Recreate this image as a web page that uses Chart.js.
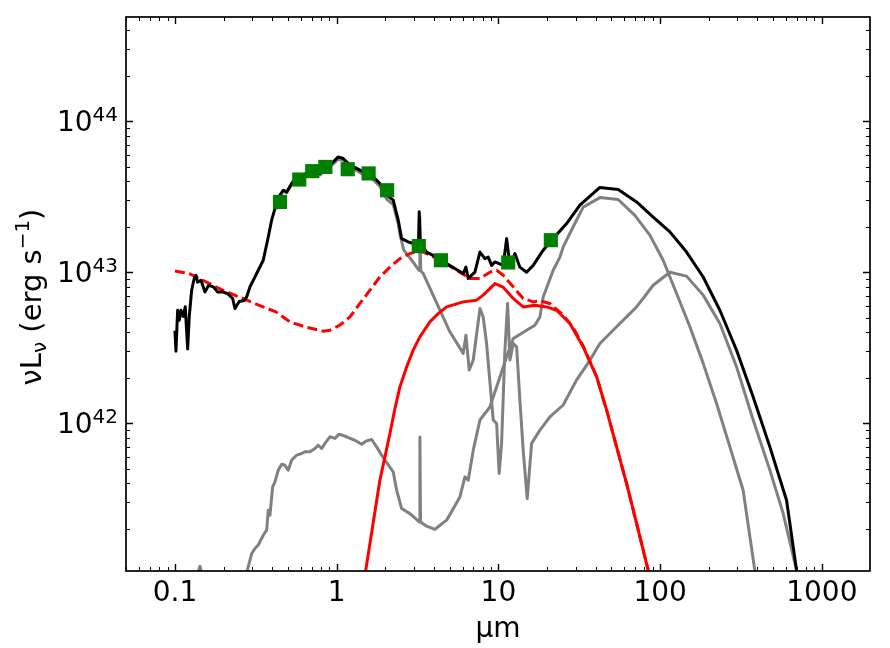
<!DOCTYPE html>
<html>
<head>
<meta charset="utf-8">
<script src="https://cdn.jsdelivr.net/npm/chart.js@4.4.0/dist/chart.umd.min.js"></script>
<style>
  html, body { margin: 0; padding: 0; background: #fff; }
  #wrap { width: 890px; height: 648px; }
</style>
</head>
<body>
<div id="wrap"><canvas id="sed" width="890" height="648"></canvas></div>
<script>
// ── SED data (wavelength in µm, νLν in erg/s) ─────────────────────────
const photWl = [0.446, 0.587, 0.706, 0.851, 1.17, 1.576, 2.05, 3.22, 4.41, 11.5, 21.1];
const photL  = [2.92e43, 4.11e43, 4.67e43, 4.98e43, 4.81e43, 4.51e43, 3.49e43, 1.49e43, 1.20e43, 1.16e43, 1.63e43];

// total model
const totWl = [0.100,0.1014,0.1039,0.1063,0.1089,0.1125,0.1158,0.1198,0.1226,0.1268,0.1316,0.1349,0.1381,0.1448,0.1533,0.1615,0.1725,0.1837,0.1972,0.2118,0.2274,0.2349,0.2497,0.2682,0.2775,0.2909,0.320,0.3514,0.3775,0.3961,0.4152,0.4458,0.4673,0.4903,0.5265,0.5654,0.652,0.7161,0.7879,0.8669,0.9307,1.022,1.098,1.208,1.328,1.459,1.683,1.851,2.036,2.237,2.402,2.521,2.769,2.973,3.121,3.20,3.239,3.28,3.351,3.598,4.149,4.349,4.784,6.058,6.296,6.506,7.155,7.685,8.252,8.649,9.078,9.515,10.71,11.24,11.78,12.65,13.58,14.94,16.41,18.92,21.82,26.41,31.9,42.42,55.03,71.53,90.58,114.9,145.7,184.6,234.1,297,376.2,477.1,605.1,697.7,760];
const totL  = [4.1e42,3.0e42,5.6e42,4.8e42,5.6e42,5.1e42,5.9e42,3.1e42,5.1e42,7.6e42,9.1e42,9.55e42,8.6e42,8.85e42,7.4e42,8.2e42,8.0e42,7.4e42,7.4e42,7.2e42,6.7e42,5.75e42,6.4e42,6.5e42,6.86e42,8.0e42,9.8e42,1.2e43,1.71e43,2.21e43,2.64e43,3.24e43,3.49e43,3.40e43,3.87e43,4.28e43,4.51e43,4.62e43,4.51e43,4.98e43,5.25e43,5.8e43,5.66e43,5.12e43,4.87e43,4.62e43,4.28e43,3.87e43,3.24e43,3.0e43,2.21e43,1.67e43,1.59e43,1.55e43,1.47e43,1.48e43,2.51e43,1.6e43,1.51e43,1.36e43,1.26e43,1.23e43,1.14e43,9.8e42,1.08e43,9.1e42,1.0e43,1.36e43,1.23e43,1.26e43,1.11e43,1.17e43,1.11e43,1.67e43,1.11e43,1.33e43,1.08e43,1.0e43,1.11e43,1.40e43,1.67e43,2.10e43,2.78e43,3.64e43,3.53e43,2.92e43,2.32e43,1.85e43,1.36e43,9.3e42,5.6e42,3.04e42,1.49e42,6.97e41,3.09e41,1.06e41,5e40];

// AGN total (dashed) and torus (solid red)
const agnWl = [0.1,0.1226,0.1555,0.1972,0.2497,0.332,0.421,0.514,0.652,0.826,0.908,1.047,1.208,1.392,1.606,1.851,2.134,2.46,2.84,3.27,4.35,5.51,6.67,7.69,8.86,9.75,10.71,12.35,14.23,16.41,18.06,20.82,25.16,29.0,33.44,40.5,46.7,53.8,62.0,71.53,84.4,95];
const agnL  = [1.02e43,9.8e42,8.63e42,7.6e42,6.86e42,6.04e42,5.46e42,4.69e42,4.31e42,4.07e42,4.13e42,4.46e42,5.06e42,6.21e42,7.6e42,9.31e42,1.08e43,1.23e43,1.33e43,1.39e43,1.21e43,1.03e43,9.08e42,9.08e42,1.0e43,1.03e43,9.55e42,8.0e42,6.7e42,6.36e42,6.46e42,6.21e42,5.19e42,4.3e42,3.25e42,2.03e42,1.22e42,6.97e41,3.99e41,2.17e41,1.06e41,6.5e40];
const torWl = [1.45,1.51,1.851,1.988,2.134,2.292,2.46,2.707,2.97,3.27,3.77,4.245,4.78,6.06,7.33,8.05,9.52,10.71,12.35,14.23,16.81,19.86,22.9,27.67,33.44,40.5,46.7,53.8,62.0,71.53,84.4,95];
const torL  = [8e40,1.05e41,4.2e41,5.98e41,8.54e41,1.25e42,1.74e42,2.36e42,3.04e42,3.73e42,4.69e42,5.32e42,5.89e42,6.36e42,6.53e42,7.05e42,8.41e42,7.96e42,6.7e42,5.89e42,6.04e42,5.89e42,5.6e42,4.57e42,3.2e42,2.03e42,1.22e42,6.97e41,3.99e41,2.17e41,1.06e41,6.5e40];

// grey components
const sbWl = [0.125,0.138,0.1427,0.147,0.16,0.22,0.262,0.280,0.298,0.3124,0.3273,0.3353,0.3514,0.3689,0.3775,0.3867,0.4018,0.4152,0.4351,0.4567,0.4786,0.5017,0.5265,0.5654,0.607,0.6364,0.6833,0.7336,0.7691,0.8072,0.8462,0.908,0.9754,1.037,1.152,1.297,1.427,1.532,1.645,1.766,1.896,2.237,2.348,2.521,2.838,3.24,3.27,3.30,3.598,4.05,4.35,4.784,5.78,6.21,6.51,6.99,7.69,8.86,11.24,12.35,14.94,16.81,18.06,18.92,21.82,24.0,25.16,29.0,33.44,42.42,55.03,69.8,86.4,104.4,126.4,152.8,184.6,223.4,270,326,385,410];
const sbL  = [7e40,1.0e41,1.13e41,1.0e41,7e40,5e40,8e40,1.06e41,1.37e41,1.48e41,1.56e41,1.64e41,1.81e41,1.96e41,2.65e41,2.46e41,3.79e41,4.09e41,4.88e41,5.35e41,5.27e41,4.88e41,5.69e41,6.14e41,6.30e41,6.46e41,6.46e41,6.80e41,7.15e41,6.80e41,7.35e41,8.13e41,7.93e41,8.46e41,8.13e41,7.71e41,7.26e41,7.64e41,7.80e41,6.97e41,6.14e41,4.75e41,3.60e41,2.72e41,2.52e41,2.22e41,8.11e41,2.22e41,2.08e41,1.98e41,2.11e41,2.28e41,3.25e41,4.41e41,4.20e41,6.63e41,1.05e42,1.28e42,2.75e42,3.64e42,4.13e42,4.46e42,5.06e42,6.86e42,1.03e43,1.26e43,1.47e43,2.0e43,2.70e43,3.12e43,3.03e43,2.38e43,1.76e43,1.20e43,7.23e42,4.35e42,2.49e42,1.35e42,6.97e41,3.60e41,1.06e41,6.5e40];
const hostWl = [0.4152,0.4458,0.4673,0.4903,0.5265,0.5654,0.652,0.7161,0.7879,0.8669,0.9307,1.022,1.098,1.208,1.328,1.459,1.683,1.851,2.036,2.237,2.402,2.47,2.6,3.0,3.23,3.27,3.31,3.43,4.35,5.01,6.06,6.30,6.60,6.99,7.69,8.05,8.45,9.29,9.75,10.11,10.46,10.97,11.40,11.78,12.35,12.96,13.58,14.23,15.07,16.04,18.06,20.82,25.16,30.4,36.8,42.42,53.8,71.53,90.58,114.9,145.7,184.6,234.1,297,376.2,477.1,576.4,697.7,740];
const hostL  = [2.6e43,3.2e43,3.45e43,3.35e43,3.8e43,4.2e43,4.4e43,4.5e43,4.4e43,4.85e43,5.1e43,5.6e43,5.5e43,4.95e43,4.7e43,4.45e43,4.1e43,3.7e43,3.05e43,2.8e43,2.1e43,1.75e43,1.4e43,1.15e43,1.03e43,2.3e43,1.02e43,9.8e42,5.6e42,4.03e42,2.9e42,3.83e42,2.25e42,2.62e42,5.75e42,5.06e42,3.37e42,1.05e42,9.95e41,4.65e41,7.35e41,3.04e42,6.21e42,2.62e42,3.37e42,3.2e42,1.42e42,6.63e41,3.17e41,7.35e41,9.0e41,1.10e42,1.32e42,1.93e42,2.61e42,3.37e42,4.35e42,5.89e42,8.2e42,1.0e43,9.42e42,7.05e42,4.57e42,2.36e42,1.05e42,4.89e41,2.53e41,1.06e41,7e40];

// axes
const xTickVals   = [0.1, 1, 10, 100, 1000];
const xTickLabels = ['0.1', '1', '10', '100', '1000'];
const yTickVals   = [1e42, 1e43, 1e44];
const yTickExps   = ['42', '43', '44'];

const FONT = '"DejaVu Sans", "Liberation Sans", sans-serif';
const LW = 3;

function pts(wl, lum) { return wl.map((w, i) => ({ x: w, y: lum[i] })); }

function curve(wl, lum, color, order, extra) {
  return Object.assign({
    data: pts(wl, lum), borderColor: color, backgroundColor: color, borderWidth: LW,
    pointRadius: 0, tension: 0, fill: false, clip: 0, order,
    borderJoinStyle: 'round', borderCapStyle: 'butt'
  }, extra || {});
}

// frame, inward ticks and mathtext-like labels
const sedAxes = {
  id: 'sedAxes',
  afterDatasetsDraw(chart) {
    const { ctx, chartArea: a } = chart;
    const sx = chart.scales.x, sy = chart.scales.y;
    ctx.save();
    ctx.strokeStyle = '#000';

    for (let e = -2; e <= 3; e++) for (let m = 1; m <= 9; m++) {
      const v = m * Math.pow(10, e);
      if (v <= sx.min || v >= sx.max) continue;
      const px = Math.round(sx.getPixelForValue(v)) + 0.5, len = m === 1 ? 7 : 4;
      ctx.lineWidth = m === 1 ? 1.4 : 1;
      ctx.beginPath();
      ctx.moveTo(px, a.bottom); ctx.lineTo(px, a.bottom - len);
      ctx.moveTo(px, a.top); ctx.lineTo(px, a.top + len);
      ctx.stroke();
    }
    for (let e = 41; e <= 44; e++) for (let m = 1; m <= 9; m++) {
      const v = m * Math.pow(10, e);
      if (v <= sy.min || v >= sy.max) continue;
      const py = Math.round(sy.getPixelForValue(v)) + 0.5, len = m === 1 ? 7 : 4;
      ctx.lineWidth = m === 1 ? 1.4 : 1;
      ctx.beginPath();
      ctx.moveTo(a.left, py); ctx.lineTo(a.left + len, py);
      ctx.moveTo(a.right, py); ctx.lineTo(a.right - len, py);
      ctx.stroke();
    }
    ctx.lineWidth = 1.7;
    ctx.strokeRect(a.left, a.top, a.right - a.left, a.bottom - a.top);

    ctx.fillStyle = '#000';
    ctx.textBaseline = 'alphabetic';

    // x tick labels
    ctx.font = '28px ' + FONT;
    ctx.textAlign = 'center';
    xTickVals.forEach((v, i) => ctx.fillText(xTickLabels[i], sx.getPixelForValue(v), a.bottom + 30));

    // y tick labels: 10^n
    ctx.textAlign = 'left';
    yTickVals.forEach((v, i) => {
      const py = sy.getPixelForValue(v);
      ctx.font = '20px ' + FONT;
      const wSup = ctx.measureText(yTickExps[i]).width;
      ctx.font = '28px ' + FONT;
      const wTen = ctx.measureText('10').width;
      const right = a.left - 8;
      ctx.fillText('10', right - wSup - wTen, py + 10);
      ctx.font = '20px ' + FONT;
      ctx.fillText(yTickExps[i], right - wSup, py);
    });

    // x axis title
    ctx.font = '28px ' + FONT;
    ctx.textAlign = 'center';
    ctx.fillText('μm', (a.left + a.right) / 2, 637);

    // y axis title: νLν (erg s⁻¹)
    const big = '29px ' + FONT, small = '20px ' + FONT;
    const parts = [
      { t: 'ν', f: big, dy: 0 }, { t: 'L', f: big, dy: 0 }, { t: 'ν', f: small, dy: 5 },
      { t: ' (erg s', f: big, dy: 0 }, { t: '\u22121', f: small, dy: -12 }, { t: ')', f: big, dy: 0 }
    ];
    let total = 0;
    parts.forEach(p => { ctx.font = p.f; p.w = ctx.measureText(p.t).width; total += p.w; });
    ctx.translate(41, 297);
    ctx.rotate(-Math.PI / 2);
    ctx.textAlign = 'left';
    let cx = -total / 2;
    parts.forEach(p => { ctx.font = p.f; ctx.fillText(p.t, cx, p.dy); cx += p.w; });
    ctx.restore();
  }
};

new Chart(document.getElementById('sed'), {
  type: 'line',
  data: {
    datasets: [
      { data: pts(photWl, photL), showLine: false, pointStyle: 'rect', pointRadius: 10,
        pointBackgroundColor: '#008000', pointBorderColor: '#008000', pointBorderWidth: 0,
        order: 0, clip: 0 },
      curve(totWl, totL, '#000000', 1),
      curve(agnWl, agnL, '#ff0000', 2, { borderDash: [10, 4.5] }),
      curve(torWl, torL, '#ff0000', 3),
      curve(hostWl, hostL, '#808080', 4),
      curve(sbWl, sbL, '#808080', 5)
    ]
  },
  options: {
    responsive: false,
    animation: false,
    devicePixelRatio: 1,
    events: [],
    layout: { padding: { left: 126, right: 20, top: 17, bottom: 77 } },
    plugins: { legend: { display: false }, tooltip: { enabled: false } },
    scales: {
      x: { type: 'logarithmic', min: 0.0498, max: 1985, display: false },
      y: { type: 'logarithmic', min: 1.05e41, max: 4.9e44, display: false }
    }
  },
  plugins: [sedAxes]
});
</script>
</body>
</html>
